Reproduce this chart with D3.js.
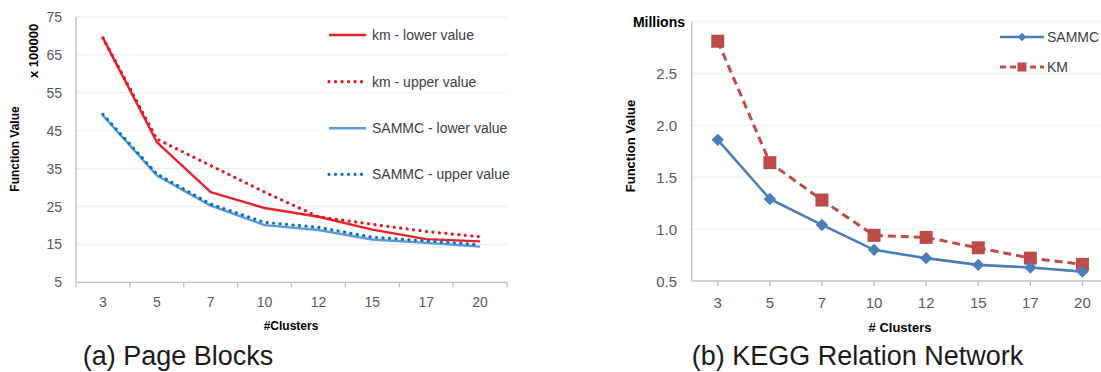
<!DOCTYPE html>
<html>
<head>
<meta charset="utf-8">
<script src="https://cdn.jsdelivr.net/npm/d3@7/dist/d3.min.js"></script>
<style>
  html, body { margin: 0; padding: 0; background: #fff; }
  svg { display: block; font-family: "Liberation Sans", Arial, sans-serif; }
</style>
</head>
<body>
<svg id="chart" width="1101" height="372"></svg>
<script>
// Number of clusters on the x axis (shared by both panels)
const clusters = ["3", "5", "7", "10", "12", "15", "17", "20"];

// Panel (a): Page Blocks, function value in units of 100000
const kmLower    = [69.5, 42.0, 28.8, 24.6, 22.3, 18.9, 16.4, 15.8];
const kmUpper    = [69.5, 42.8, 35.8, 28.8, 22.3, 20.3, 18.4, 17.0];
const sammcLower = [49.0, 33.2, 25.2, 20.1, 18.8, 16.3, 15.4, 14.4];
const sammcUpper = [49.3, 33.6, 25.6, 20.8, 19.5, 16.9, 15.9, 14.9];
const ticksA     = [5, 15, 25, 35, 45, 55, 65, 75];

// Panel (b): KEGG Relation Network, function value in millions
const sammcB = [1.86, 1.29, 1.04, 0.80, 0.72, 0.655, 0.63, 0.59];
const kmB    = [2.81, 1.64, 1.28, 0.94, 0.92, 0.82, 0.72, 0.66];
const ticksB = [0.5, 1.0, 1.5, 2.0, 2.5];

const svg = d3.select("#chart");
const gridColor = "#ececec";
const axisColor = "#bfbfbf";
const tickText = "#595959";

// ---------- Panel (a) ----------
const ga = svg.append("g");
const xA = d3.scaleBand().domain(clusters).range([76, 507]);
const yA = d3.scaleLinear().domain([5, 75]).range([282.3, 17]);

// horizontal gridlines
ga.selectAll("line.grid").data(ticksA.slice(1)).join("line")
  .attr("x1", 76).attr("x2", 507)
  .attr("y1", d => yA(d)).attr("y2", d => yA(d))
  .attr("stroke", gridColor).attr("stroke-width", 1);

// axis lines
ga.append("line").attr("x1", 76).attr("x2", 76).attr("y1", yA(75)).attr("y2", yA(5))
  .attr("stroke", axisColor).attr("stroke-width", 1.3);
ga.append("line").attr("x1", 76).attr("x2", 507).attr("y1", yA(5)).attr("y2", yA(5))
  .attr("stroke", axisColor).attr("stroke-width", 1.3);

// tick marks at category boundaries
const edgesA = clusters.map(c => xA(c)).concat([xA.range()[1]]);
ga.selectAll("line.xt").data(edgesA).join("line")
  .attr("x1", d => d).attr("x2", d => d)
  .attr("y1", yA(5)).attr("y2", yA(5) + 5)
  .attr("stroke", axisColor).attr("stroke-width", 1.3);

// tick labels
ga.selectAll("text.yl").data(ticksA).join("text")
  .attr("x", 62).attr("y", d => yA(d) + 5)
  .attr("text-anchor", "end").attr("font-size", 14).attr("fill", tickText)
  .text(d => d);
ga.selectAll("text.xl").data(clusters).join("text")
  .attr("x", d => xA(d) + xA.bandwidth() / 2).attr("y", 307)
  .attr("text-anchor", "middle").attr("font-size", 14).attr("fill", tickText)
  .text(d => d);

// axis titles
ga.append("text").attr("transform", "translate(19,149) rotate(-90)")
  .attr("text-anchor", "middle").attr("font-size", 12).attr("font-weight", "bold")
  .text("Function Value");
ga.append("text").attr("transform", "translate(38,51) rotate(-90)")
  .attr("text-anchor", "middle").attr("font-size", 13).attr("font-weight", "bold")
  .text("x 100000");
ga.append("text").attr("x", 291).attr("y", 330)
  .attr("text-anchor", "middle").attr("font-size", 12).attr("font-weight", "bold")
  .text("#Clusters");

const cxA = d => xA(d) + xA.bandwidth() / 2;
const lineA = vals => d3.line().x((d, i) => cxA(clusters[i])).y(d => yA(d))(vals);

const seriesA = [
  { name: "km - lower value",    vals: kmLower,    color: "#e8222a", dash: null },
  { name: "km - upper value",    vals: kmUpper,    color: "#e0181f", dash: "0.1 6.4" },
  { name: "SAMMC - lower value", vals: sammcLower, color: "#5b9bd5", dash: null },
  { name: "SAMMC - upper value", vals: sammcUpper, color: "#0a6fc2", dash: "0.1 6.4" }
];

// draw solid lines first, dotted on top
[2, 0, 3, 1].forEach(k => {
  const s = seriesA[k];
  ga.append("path").attr("d", lineA(s.vals))
    .attr("fill", "none").attr("stroke", s.color)
    .attr("stroke-width", s.dash ? 3.2 : 2.4)
    .attr("stroke-linecap", s.dash ? "round" : "butt")
    .attr("stroke-linejoin", "round")
    .attr("stroke-dasharray", s.dash);
});

// legend
const legA = ga.append("g");
const legYA = [35, 81.7, 128.3, 174.3];
seriesA.forEach((s, i) => {
  const y = legYA[i];
  legA.append("rect").attr("x", 322).attr("y", y - 11).attr("width", 186).attr("height", 22)
    .attr("fill", "#fff");
  legA.append("line").attr("x1", 329).attr("x2", 366).attr("y1", y).attr("y2", y)
    .attr("stroke", s.color)
    .attr("stroke-width", s.dash ? 3.2 : 2.4)
    .attr("stroke-linecap", s.dash ? "round" : "butt")
    .attr("stroke-dasharray", s.dash);
  legA.append("text").attr("x", 372).attr("y", y + 5)
    .attr("font-size", 14).attr("fill", "#404040").text(s.name);
});

// caption
svg.append("text").attr("x", 82.7).attr("y", 365)
  .attr("font-size", 27).attr("fill", "#1a1a1a").text("(a) Page Blocks");

// ---------- Panel (b) ----------
const gb = svg.append("g");
const xB = d3.scaleBand().domain(clusters).range([691.7, 1108.5]);
const yB = d3.scaleLinear().domain([0.5, 3.0]).range([281, 21.5]);
const cxB = d => xB(d) + xB.bandwidth() / 2;

gb.selectAll("line.grid").data(ticksB.slice(1).concat([3.0])).join("line")
  .attr("x1", 692).attr("x2", 1108)
  .attr("y1", d => yB(d)).attr("y2", d => yB(d))
  .attr("stroke", gridColor).attr("stroke-width", 1);

gb.append("line").attr("x1", 691.7).attr("x2", 691.7).attr("y1", yB(3.0)).attr("y2", yB(0.5))
  .attr("stroke", axisColor).attr("stroke-width", 1.3);
gb.append("line").attr("x1", 691.7).attr("x2", 1108).attr("y1", yB(0.5)).attr("y2", yB(0.5))
  .attr("stroke", axisColor).attr("stroke-width", 1.3);

// tick marks at category centres
gb.selectAll("line.xt").data(clusters).join("line")
  .attr("x1", d => cxB(d)).attr("x2", d => cxB(d))
  .attr("y1", yB(0.5)).attr("y2", yB(0.5) + 5)
  .attr("stroke", axisColor).attr("stroke-width", 1.3);

gb.selectAll("text.yl").data(ticksB).join("text")
  .attr("x", 677).attr("y", d => yB(d) + 5.5)
  .attr("text-anchor", "end").attr("font-size", 15).attr("fill", tickText)
  .text(d => d3.format(".1f")(d));
gb.selectAll("text.xl").data(clusters).join("text")
  .attr("x", d => cxB(d)).attr("y", 308.3)
  .attr("text-anchor", "middle").attr("font-size", 15).attr("fill", tickText)
  .text(d => d);

gb.append("text").attr("x", 685).attr("y", 27)
  .attr("text-anchor", "end").attr("font-size", 14).attr("font-weight", "bold")
  .text("Millions");
gb.append("text").attr("transform", "translate(635,146) rotate(-90)")
  .attr("text-anchor", "middle").attr("font-size", 13).attr("font-weight", "bold")
  .text("Function Value");
gb.append("text").attr("x", 900).attr("y", 332)
  .attr("text-anchor", "middle").attr("font-size", 13).attr("font-weight", "bold")
  .text("# Clusters");

const lineB = vals => d3.line().x((d, i) => cxB(clusters[i])).y(d => yB(d))(vals);
const blueB = "#4a7ebb", redB = "#be4b48";

// KM (dashed, squares)
gb.append("path").attr("d", lineB(kmB)).attr("fill", "none")
  .attr("stroke", redB).attr("stroke-width", 3).attr("stroke-dasharray", "8 5");
gb.selectAll("rect.km").data(kmB).join("rect")
  .attr("x", (d, i) => cxB(clusters[i]) - 6.5).attr("y", d => yB(d) - 6.5)
  .attr("width", 13).attr("height", 13).attr("fill", redB);

// SAMMC (solid, diamonds)
gb.append("path").attr("d", lineB(sammcB)).attr("fill", "none")
  .attr("stroke", blueB).attr("stroke-width", 2.6);
const diamond = d3.symbol().type(d3.symbolDiamond2).size(98);
gb.selectAll("path.sm").data(sammcB).join("path")
  .attr("d", diamond)
  .attr("transform", (d, i) => `translate(${cxB(clusters[i])},${yB(d)})`)
  .attr("fill", blueB);

// legend
const legB = gb.append("g");
legB.append("line").attr("x1", 1000).attr("x2", 1044).attr("y1", 37).attr("y2", 37)
  .attr("stroke", blueB).attr("stroke-width", 2.6);
legB.append("path").attr("d", d3.symbol().type(d3.symbolDiamond2).size(46))
  .attr("transform", "translate(1022,37)").attr("fill", blueB);
legB.append("text").attr("x", 1047).attr("y", 42).attr("font-size", 14).attr("fill", "#404040")
  .text("SAMMC");
legB.append("line").attr("x1", 1000).attr("x2", 1044).attr("y1", 67).attr("y2", 67)
  .attr("stroke", redB).attr("stroke-width", 3).attr("stroke-dasharray", "6 4");
legB.append("rect").attr("x", 1017.5).attr("y", 62.5).attr("width", 9).attr("height", 9)
  .attr("fill", redB);
legB.append("text").attr("x", 1047).attr("y", 72).attr("font-size", 14).attr("fill", "#404040")
  .text("KM");

svg.append("text").attr("x", 691.7).attr("y", 365)
  .attr("font-size", 27).attr("fill", "#1a1a1a").text("(b) KEGG Relation Network");
</script>
</body>
</html>
